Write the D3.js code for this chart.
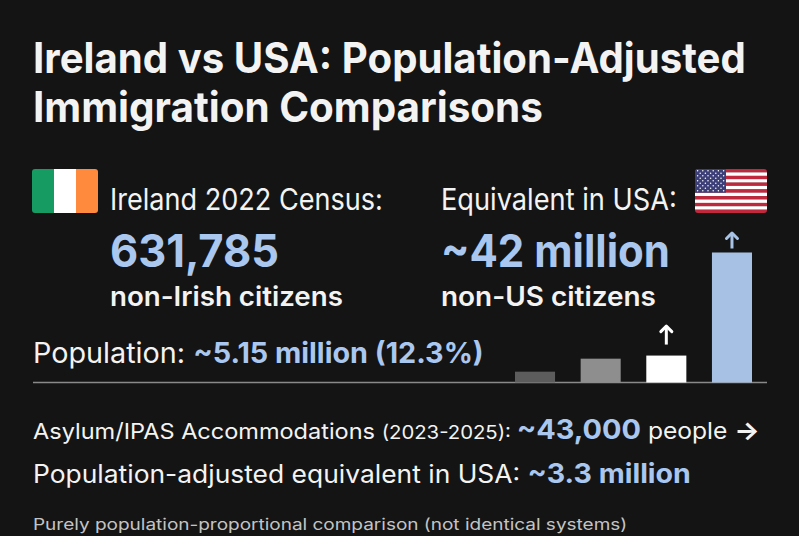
<!DOCTYPE html>
<html>
<head>
<meta charset="utf-8">
<script src="https://cdn.jsdelivr.net/npm/d3@7"></script>
<style>
  html, body { margin: 0; padding: 0; background: #141414; }
  svg { display: block; font-family: Inter, "Noto Sans", sans-serif; }
</style>
</head>
<body>
<script>
var w = 799;
var h = 536;

// bar heights (relative, in millions-equivalent)
var barKeys = ["a", "b", "c", "d"];
var barValues = [3.5, 7.7, 8.7, 42];
var barColors = ["#5c5c5c", "#8e8e8e", "#ffffff", "#a6c1e4"];
var barArrows = [false, false, true, true];

var titleLines = ["Ireland vs USA: Population-Adjusted", "Immigration Comparisons"];
var irelandTexts = ["Ireland 2022 Census:", "631,785", "non-Irish citizens"];
var usaTexts = ["Equivalent in USA:", "~42 million", "non-US citizens"];
var populationText = ["Population: ", "~5.15 million (12.3%)"];
var asylumText = ["Asylum/IPAS Accommodations ", "(2023-2025): ", "~43,000", " people ", "\u2192"];
var adjustedText = ["Population-adjusted equivalent in USA: ", "~3.3 million"];
var footnote = "Purely population-proportional comparison (not identical systems)";

var white = "#f3f3f3";
var blue = "#a9c7ef";

var svg = d3.select("body")
  .append("svg")
  .attr("width", w)
  .attr("height", h);

svg.append("rect")
  .attr("width", w)
  .attr("height", h)
  .attr("fill", "#141414");

// squeeze/stretch a text element so it spans [x0, x1]
function fit(sel, x0, x1) {
  var node = sel.node();
  var len = node.getComputedTextLength();
  var sx = (x1 - x0) / len;
  sel.attr("transform", `translate(${x0},0) scale(${sx},1) translate(${-x0},0)`);
  return sel;
}

function line(x, y, parts, x1) {
  var t = svg.append("text").attr("x", x).attr("y", y);
  parts.forEach(function (p) {
    t.append("tspan")
      .attr("font-size", p.size)
      .attr("font-weight", p.weight)
      .attr("fill", p.color)
      .style("white-space", "pre")
      .text(p.text);
  });
  t.style("white-space", "pre");
  return fit(t, x, x1);
}

// title
line(33, 73, [{ text: titleLines[0], size: 42, weight: 700, color: white }], 746);
line(33, 122, [{ text: titleLines[1], size: 42, weight: 700, color: white }], 543);

// Irish flag
var ie = svg.append("g");
ie.append("clipPath").attr("id", "ieclip")
  .append("rect").attr("x", 32).attr("y", 169).attr("width", 66).attr("height", 44).attr("rx", 3);
var ieG = ie.append("g").attr("clip-path", "url(#ieclip)");
["#169b62", "#ffffff", "#ff8a3d"].forEach(function (c, i) {
  ieG.append("rect").attr("x", 32 + i * 22).attr("y", 169).attr("width", 22.5).attr("height", 44).attr("fill", c);
});

// US flag
var us = svg.append("g");
us.append("clipPath").attr("id", "usclip")
  .append("rect").attr("x", 695).attr("y", 169).attr("width", 72).attr("height", 44).attr("rx", 3);
var usG = us.append("g").attr("clip-path", "url(#usclip)");
var stripeH = 44 / 13;
d3.range(13).forEach(function (i) {
  usG.append("rect")
    .attr("x", 695).attr("y", 169 + i * stripeH)
    .attr("width", 72).attr("height", stripeH + 0.2)
    .attr("fill", i % 2 === 0 ? "#c0283e" : "#ffffff");
});
usG.append("rect").attr("x", 695).attr("y", 169).attr("width", 31).attr("height", stripeH * 7).attr("fill", "#3c3f78");
d3.range(9).forEach(function (r) {
  var n = r % 2 === 0 ? 6 : 5;
  d3.range(n).forEach(function (c) {
    usG.append("circle")
      .attr("cx", 695 + 2.6 + c * 5.2 + (r % 2 === 0 ? 0 : 2.6))
      .attr("cy", 169 + 1.8 + r * 2.5)
      .attr("r", 0.75)
      .attr("fill", "#ffffff");
  });
});

// Ireland block
line(110, 210, [{ text: irelandTexts[0], size: 30, weight: 400, color: white }], 383);
line(110, 267, [{ text: irelandTexts[1], size: 45, weight: 700, color: blue }], 279);
line(110, 306, [{ text: irelandTexts[2], size: 27, weight: 600, color: white }], 343);

// USA block
line(441, 210, [{ text: usaTexts[0], size: 30, weight: 400, color: white }], 677);
line(441, 267, [{ text: usaTexts[1], size: 45, weight: 700, color: blue }], 670);
line(441, 306, [{ text: usaTexts[2], size: 27, weight: 600, color: white }], 656);

// population row
line(33, 363, [
  { text: populationText[0], size: 28, weight: 400, color: white },
  { text: populationText[1], size: 28, weight: 700, color: blue }
], 484);

// bars
var baseY = 382.5;
var xScale = d3.scaleBand()
  .domain(barKeys)
  .range([515, 752])
  .paddingInner(0.39)
  .paddingOuter(0);

var yScale = d3.scaleLinear()
  .domain([0, d3.max(barValues)])
  .range([baseY, 252.5]);

svg.append("line")
  .attr("x1", 33).attr("x2", 767)
  .attr("y1", baseY).attr("y2", baseY)
  .attr("stroke", "#8a8a8a")
  .attr("stroke-width", 1.5);

svg.selectAll("rect.bar")
  .data(barValues)
  .enter()
  .append("rect")
  .attr("class", "bar")
  .attr("x", function (d, i) { return xScale(barKeys[i]); })
  .attr("y", function (d) { return yScale(d); })
  .attr("width", xScale.bandwidth())
  .attr("height", function (d) { return baseY - yScale(d); })
  .attr("fill", function (d, i) { return barColors[i]; });

// arrows above the growing bars
barValues.forEach(function (d, i) {
  if (!barArrows[i]) return;
  var cx = xScale(barKeys[i]) + xScale.bandwidth() / 2;
  var gap = i === 3 ? 4 : 11;
  var bot = yScale(d) - gap;
  var top = bot - (i === 3 ? 16 : 19);
  var col = i === 3 ? "#a9c3e6" : "#ffffff";
  svg.append("line")
    .attr("x1", cx).attr("x2", cx)
    .attr("y1", top + 2).attr("y2", bot)
    .attr("stroke", col).attr("stroke-width", 3);
  svg.append("path")
    .attr("d", `M${cx - 5.5},${top + 6} L${cx},${top + 0.5} L${cx + 5.5},${top + 6}`)
    .attr("fill", "none")
    .attr("stroke", col).attr("stroke-width", 3)
    .attr("stroke-linecap", "round")
    .attr("stroke-linejoin", "round");
});

// bottom rows
line(33, 439, [
  { text: asylumText[0], size: 22, weight: 400, color: white },
  { text: asylumText[1], size: 19, weight: 400, color: white },
  { text: asylumText[2], size: 27, weight: 700, color: blue },
  { text: asylumText[3], size: 23, weight: 400, color: white },
  { text: asylumText[4], size: 25, weight: 700, color: white }
], 760);

line(33, 483, [
  { text: adjustedText[0], size: 25, weight: 400, color: white },
  { text: adjustedText[1], size: 27, weight: 700, color: blue }
], 691);

line(33, 530, [{ text: footnote, size: 16, weight: 400, color: "#c4c4c4" }], 628);
</script>
</body>
</html>
